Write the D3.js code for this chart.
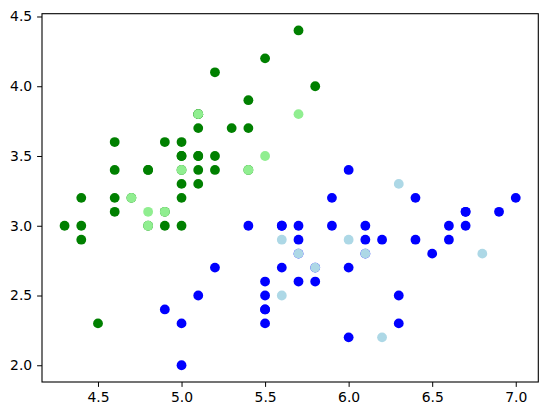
<!DOCTYPE html>
<html><head><meta charset="utf-8">
<script src="https://cdn.jsdelivr.net/npm/d3@7"></script>
<style>body{margin:0;background:#fff}svg{display:block}text{font-family:"DejaVu Sans",sans-serif}</style>
</head><body>
<script>
// Setosa training points [sepal length, sepal width]
const setosaTrain = [[5.1,3.5],[4.9,3.0],[4.7,3.2],[4.6,3.1],[5.0,3.6],[5.4,3.9],[4.6,3.4],[5.0,3.4],[4.4,2.9],[4.9,3.1],[5.4,3.7],[4.8,3.4],[4.8,3.0],[4.3,3.0],[5.8,4.0],[5.7,4.4],[5.1,3.5],[5.1,3.8],[5.1,3.7],[4.6,3.6],[5.1,3.3],[4.8,3.4],[5.0,3.0],[5.2,3.5],[5.2,3.4],[5.4,3.4],[5.2,4.1],[5.5,4.2],[5.0,3.2],[4.9,3.6],[4.4,3.0],[5.1,3.4],[5.0,3.5],[4.5,2.3],[4.4,3.2],[5.0,3.5],[5.1,3.8],[4.6,3.2],[5.3,3.7],[5.0,3.3]];
// Setosa test points
const setosaTest = [[4.7,3.2],[4.8,3.1],[4.8,3.0],[4.9,3.1],[5.0,3.4],[5.1,3.8],[5.4,3.4],[5.5,3.5],[5.7,3.8]];
// Versicolor training points
const versiTrain = [[7.0,3.2],[6.4,3.2],[6.9,3.1],[5.5,2.3],[6.5,2.8],[5.7,2.8],[4.9,2.4],[6.6,2.9],[5.2,2.7],[5.0,2.0],[5.9,3.0],[6.0,2.2],[6.1,2.9],[6.7,3.1],[5.6,3.0],[5.8,2.7],[5.9,3.2],[6.1,2.8],[6.3,2.5],[6.4,2.9],[6.6,3.0],[6.7,3.0],[5.7,2.6],[5.5,2.4],[5.5,2.4],[6.0,2.7],[5.4,3.0],[6.0,3.4],[6.7,3.1],[6.3,2.3],[5.6,3.0],[5.5,2.5],[5.5,2.6],[6.1,3.0],[5.8,2.6],[5.0,2.3],[5.6,2.7],[5.7,3.0],[5.7,2.9],[6.2,2.9],[5.1,2.5]];
// Versicolor test points
const versiTest = [[6.3,3.3],[5.6,2.9],[6.0,2.9],[6.1,2.8],[5.7,2.8],[5.8,2.7],[5.6,2.5],[6.2,2.2],[6.8,2.8]];
const xTicks = [4.5,5.0,5.5,6.0,6.5,7.0];
const yTicks = [2.0,2.5,3.0,3.5,4.0,4.5];

const W=547,H=416;
const m={left:42,right:538.3,top:13.7,bottom:382};
const svg=d3.select("body").append("svg").attr("width",W).attr("height",H);
const x=d3.scaleLinear().domain([4.165,7.135]).range([m.left,m.right]);
const y=d3.scaleLinear().domain([1.88,4.52]).range([m.bottom,m.top]);

const layers=[[setosaTrain,"#008000"],[versiTrain,"#0000ff"],[setosaTest,"#90ee90"],[versiTest,"#add8e6"]];
layers.forEach(([data,c])=>{
  svg.append("g").selectAll("circle").data(data).join("circle")
    .attr("cx",d=>x(d[0])).attr("cy",d=>y(d[1])).attr("r",4.9).attr("fill",c);
});

const fmt=d3.format(".1f");
const xa=svg.append("g").attr("transform",`translate(0,${m.bottom})`)
  .call(d3.axisBottom(x).tickValues(xTicks).tickFormat(fmt).tickSize(4.9).tickPadding(4.9).tickSizeOuter(0));
const ya=svg.append("g").attr("transform",`translate(${m.left},0)`)
  .call(d3.axisLeft(y).tickValues(yTicks).tickFormat(fmt).tickSize(4.9).tickPadding(4.9).tickSizeOuter(0));
[xa,ya].forEach(a=>{a.select(".domain").remove();a.selectAll("text").attr("font-size","13.9px").attr("fill","#000").attr("font-family","DejaVu Sans");a.selectAll("line").attr("stroke","#000").attr("stroke-width",1);});

svg.append("rect").attr("x",m.left).attr("y",m.top).attr("width",m.right-m.left).attr("height",m.bottom-m.top)
  .attr("fill","none").attr("stroke","#000").attr("stroke-width",1.1);
</script>
</body></html>
